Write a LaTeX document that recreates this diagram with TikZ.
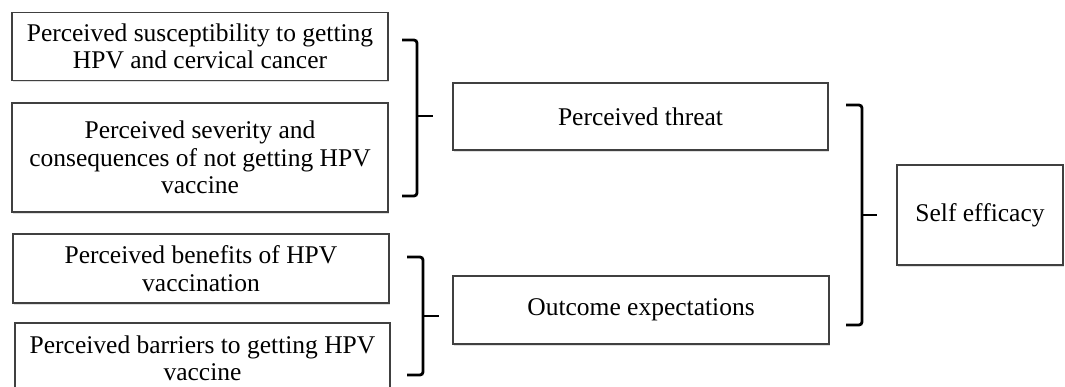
\documentclass[tikz,border=0pt]{standalone}
\usepackage{fontspec}
\setmainfont{Liberation Serif}
\usepackage{tikz}
\usetikzlibrary{positioning}
\usetikzlibrary{shadows}
\tikzset{
    factor/.style={draw=black!75, line width=1.4pt, fill=white, align=center,
        inner sep=0pt, font=\fontsize{25.5}{27.5}\selectfont,
        drop shadow={opacity=0.25, shadow xshift=1pt, shadow yshift=-1.5pt}},
    bracket/.style={draw=black, line width=2.8pt, rounded corners=3pt},
    bracktick/.style={draw=black, line width=2.8pt},
}

\begin{document}
\begin{tikzpicture}[x=1pt, y=-1pt]
\useasboundingbox (0,0) rectangle (1065,386);
\clip (0,0) rectangle (1065,386);
% left column
\node[factor, minimum width=376pt, minimum height=68pt] (sus) at (200,46.5)
    {Perceived susceptibility to getting\\HPV and cervical cancer};
\node[factor, minimum width=376pt, minimum height=109pt] (sev) at (200,157.5)
    {Perceived severity and\\consequences of not getting HPV\\vaccine};
\node[factor, minimum width=376pt, minimum height=69pt] (ben) at (201,268.5)
    {Perceived benefits of HPV\\vaccination};
\node[factor, minimum width=375pt, minimum height=71pt] (bar) at (202.5,358.5)
    {Perceived barriers to getting HPV\\vaccine};
% middle column
\node[factor, minimum width=375pt, minimum height=67pt] (threat) at (640.5,116.5)
    {Perceived threat};
\node[factor, minimum width=376pt, minimum height=68pt] (outcome) at (641,310)
    {Outcome expectations};
% right
\node[factor, minimum width=166pt, minimum height=100pt] (efficacy) at (980,215)
    {Self efficacy};

% brace: susceptibility + severity -> threat
\coordinate (b1top) at (402,40);
\coordinate (b1bot) at (402,196);
\coordinate (b1mid) at (417,116);
\coordinate (b1tip) at (433,116);
\draw[bracket] (b1top) -- (417,40) -- (417,196) -- (b1bot);
\draw[bracktick] (b1mid) -- (b1tip);

% brace: benefits + barriers -> outcome
\coordinate (b2top) at (407,257);
\coordinate (b2bot) at (407,375);
\coordinate (b2mid) at (423,316);
\coordinate (b2tip) at (439,316);
\draw[bracket] (b2top) -- (423,257) -- (423,375) -- (b2bot);
\draw[bracktick] (b2mid) -- (b2tip);

% brace: threat + outcome -> efficacy
\coordinate (b3top) at (846,105);
\coordinate (b3bot) at (846,325);
\coordinate (b3mid) at (862,215);
\coordinate (b3tip) at (877,215);
\draw[bracket] (b3top) -- (862,105) -- (862,325) -- (b3bot);
\draw[bracktick] (b3mid) -- (b3tip);
\end{tikzpicture}
\end{document}
